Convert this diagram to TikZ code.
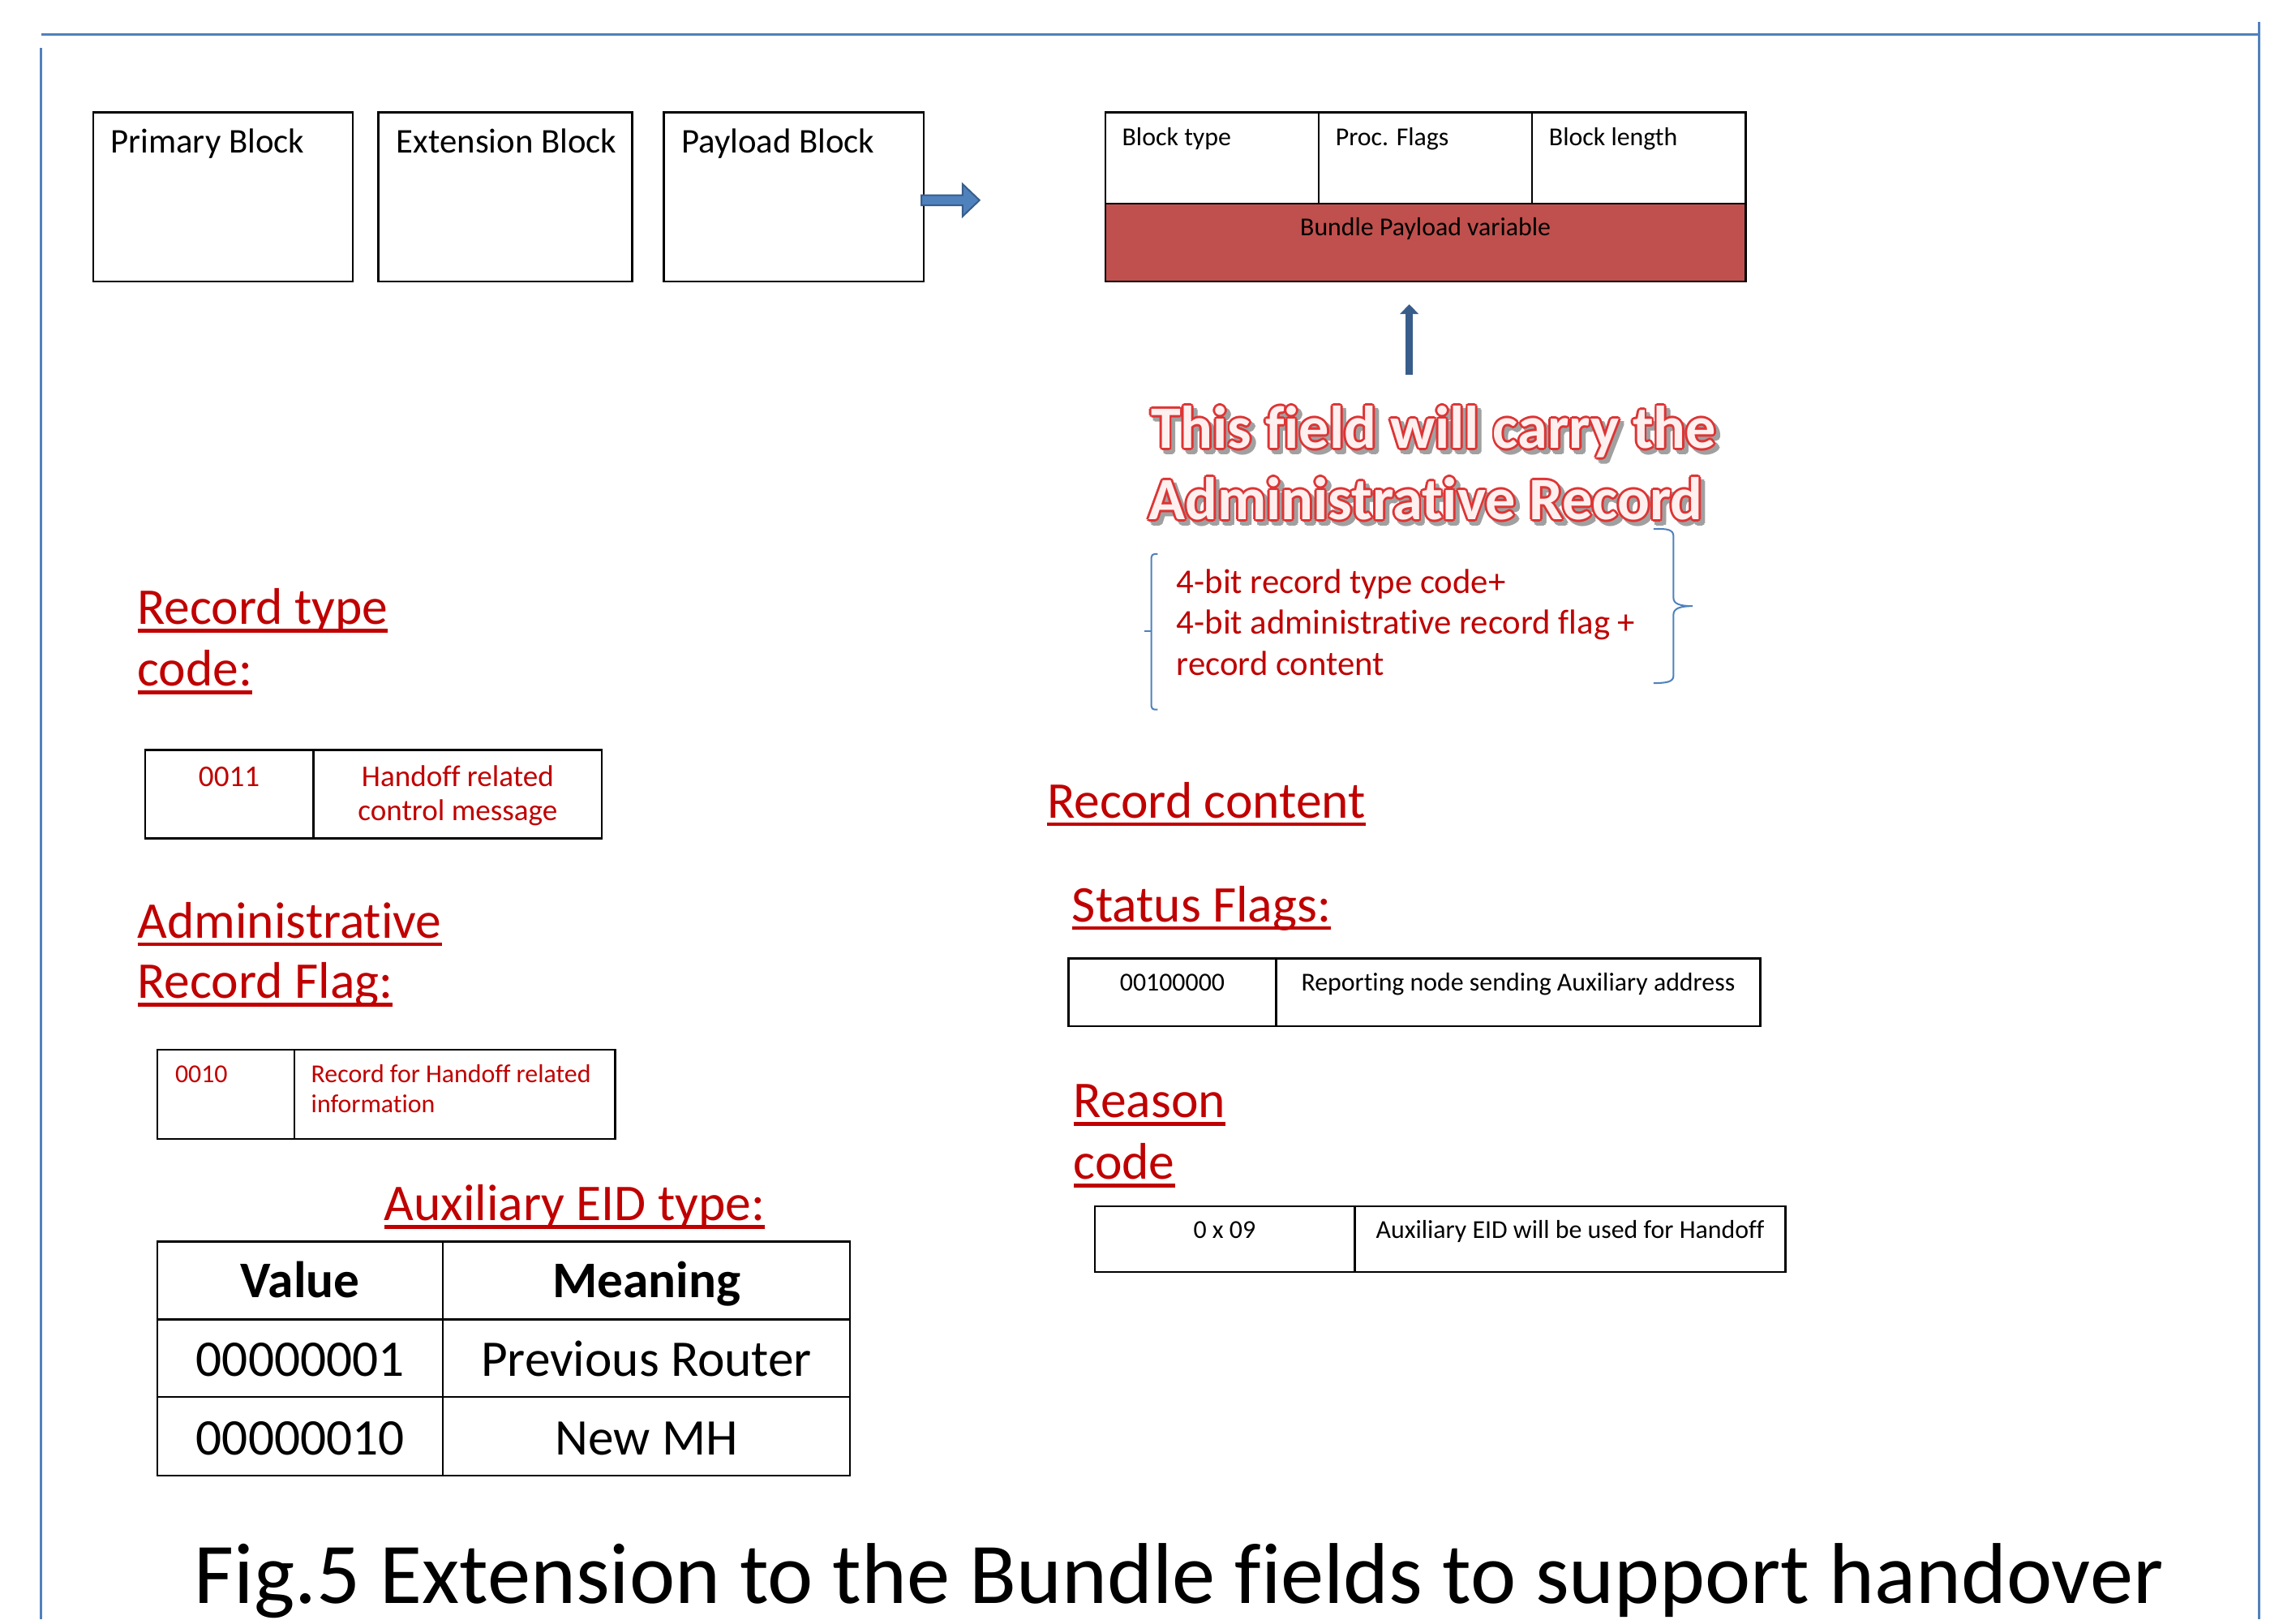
\documentclass[tikz,border=0pt]{standalone}
\usepackage{fontspec}
\setmainfont{Carlito}[RawFeature={-liga;-clig;-dlig;-calt;-rlig}]
\usetikzlibrary{arrows.meta}
\definecolor{hdred}{RGB}{192,0,0}
\definecolor{frameblue}{RGB}{79,129,189}
\definecolor{arrowblue}{RGB}{56,93,138}
\definecolor{payred}{RGB}{192,80,77}
\definecolor{artred}{RGB}{222,52,52}
\definecolor{artgray}{RGB}{160,160,160}
\definecolor{artfill}{RGB}{255,240,240}
\newcommand\fs[2]{\fontsize{#1}{#2}\selectfont}
\newcommand\ulhead[1]{\setbox0=\hbox{#1}\rlap{\rule[-0.16em]{\wd0}{0.07em}}\box0}
\newcommand\artline[1]{\leavevmode
  \foreach \dx/\dy in {0.7/0,0.5/0.5,0/0.7,-0.5/0.5,-0.7/0,-0.5/-0.5,0/-0.7,0.5/-0.5}{%
    \rlap{\hspace{\dimexpr\dx pt+1.2pt\relax}\raisebox{\dimexpr\dy pt-1.3pt\relax}{\color{artgray}#1}}}%
  \foreach \dx/\dy in {0.7/0,0.5/0.5,0/0.7,-0.5/0.5,-0.7/0,-0.5/-0.5,0/-0.7,0.5/-0.5}{%
    \rlap{\hspace{\dx pt}\raisebox{\dy pt}{\color{artred}#1}}}%
  {\color{artfill}#1}}
\begin{document}
\begin{tikzpicture}[x=0.45pt,y=0.45pt,yscale=-1,xscale=1,
    lbl/.style={anchor=base west,inner sep=0pt},
    mid/.style={anchor=base,inner sep=0pt},
    boxline/.style={draw=black,line width=0.6pt},
    frame/.style={draw=frameblue,line width=0.7pt},
    brace/.style={draw=frameblue,line width=0.5pt},
    head/.style={lbl,text=hdred,font=\fs{15.75}{18.9}},
    blocklbl/.style={lbl,font=\fs{10.6}{12.7}},
    fieldlbl/.style={font=\fs{7.9}{9.5}},
    bigcell/.style={mid,font=\fs{15.7}{18.8}}]
    \useasboundingbox (0,0) rectangle (1560,1100);

    %Straight Lines: page frame
    \draw[frame] (28,23.5) -- (1535,23.5) ;
    \draw[frame] (1535,15) -- (1535,1100) ;
    \draw[frame] (28,32.7) -- (28,1100) ;

    %Shape: Rectangle
    \draw[boxline] (63.5,76.2) rectangle (239.6,191.3) ;
    %Shape: Rectangle
    \draw[boxline] (257,76.2) rectangle (429.5,191.3) ;
    %Shape: Rectangle
    \draw[boxline] (451,76.2) rectangle (627.7,191.3) ;
    %Shape: Right Arrow
    \draw[fill=frameblue,draw=arrowblue,line width=0.5pt] (626,132.6) -- (654,132.6) -- (654,125) -- (665.5,136) -- (654,147) -- (654,139.5) -- (626,139.5) -- cycle ;

    %Shape: Rectangle
    \draw[boxline,fill=payred] (751,138.3) rectangle (1186,191.3) ;
    \draw[boxline] (751,76.2) rectangle (1186,138.3) ;
    \draw[boxline] (896,76.2) -- (896,138.3) ;
    \draw[boxline] (1041,76.2) -- (1041,138.3) ;

    %Straight Lines: up arrow
    \coordinate (upfoot) at (957.5,254.4) ;
    \coordinate (uptip) at (957.5,206.7) ;
    \draw[arrowblue,line width=2.4pt,-{Triangle[length=3pt,width=5.6pt]}] (upfoot) -- (uptip) ;

    %Shape: Brackets
    \draw[brace,rounded corners=1] (786.5,376.3) -- (782.3,376.3) -- (782.3,482) -- (786.5,482) ;
    \draw[brace] (782.3,428.8) -- (777.7,428.8) ;
    \draw[brace] (1123.5,359.4) .. controls (1133,358.8) and (1137,360) .. (1137,364) -- (1137,406) .. controls (1137,410) and (1141,411.7) .. (1150,411.7) .. controls (1141,411.7) and (1137,413.5) .. (1137,417.5) -- (1137,459) .. controls (1137,463) and (1133,464) .. (1123.5,464) ;

    %Shape: Table record type
    \draw[boxline] (98.5,509.5) rectangle (409,569.5) ;
    \draw[boxline] (213,509.5) -- (213,569.5) ;
    %Shape: Table record flag
    \draw[boxline] (107,713) rectangle (418,773.5) ;
    \draw[boxline] (200,713) -- (200,773.5) ;
    %Shape: Table auxiliary EID
    \draw[boxline] (107,843.4) rectangle (577.5,1002.2) ;
    \draw[boxline] (107,896.2) -- (577.5,896.2) ;
    \draw[boxline] (107,949) -- (577.5,949) ;
    \draw[boxline] (300.8,843.4) -- (300.8,1002.2) ;
    %Shape: Table status flags
    \draw[boxline] (726,651) rectangle (1196,697) ;
    \draw[boxline] (867,651) -- (867,697) ;
    %Shape: Table reason code
    \draw[boxline] (744,819.5) rectangle (1213,864) ;
    \draw[boxline] (920.5,819.5) -- (920.5,864) ;

    % Text Node
    \node[blocklbl] (prim) at (74.8,103.8) {Primary Block};
    % Text Node
    \node[blocklbl] (ext) at (269,103.8) {Extension Block};
    % Text Node
    \node[blocklbl] (pay) at (462.5,103.8) {Payload Block};
    % Text Node
    \node[lbl,fieldlbl] (btype) at (762,98.8) {Block type};
    % Text Node
    \node[lbl,fieldlbl] (pflags) at (907,98.8) {Proc. Flags};
    % Text Node
    \node[lbl,fieldlbl] (blen) at (1052,98.8) {Block length};
    % Text Node
    \node[mid,fieldlbl] (bpay) at (968.5,160) {Bundle Payload variable};

    % Text Node
    \node[lbl,font=\bfseries\fs{18.4}{22}] (artA) at (781.5,304.5) {\artline{This field will carry the}};
    % Text Node
    \node[lbl,font=\bfseries\fs{18.4}{22}] (artB) at (780,353) {\artline{Administrative Record}};

    % Text Node
    \node[lbl,text=hdred,font=\fs{10.6}{12.7}] (brA) at (799,403) {4-bit record type code+};
    % Text Node
    \node[lbl,text=hdred,font=\fs{10.6}{12.7}] (brB) at (799,430.7) {4-bit administrative record flag +};
    % Text Node
    \node[lbl,text=hdred,font=\fs{10.6}{12.7}] (brC) at (799,459) {record content};

    % Text Node
    \node[head] (rtcA) at (93,424) {\ulhead{Record type}};
    % Text Node
    \node[head] (rtcB) at (93,466) {\ulhead{code:}};
    % Text Node
    \node[mid,text=hdred,font=\fs{9.2}{11}] (rtcv) at (155.7,534) {0011};
    % Text Node
    \node[mid,text=hdred,font=\fs{9.2}{11}] (rtcmA) at (311,534) {Handoff related};
    % Text Node
    \node[mid,text=hdred,font=\fs{9.2}{11}] (rtcmB) at (311,557.5) {control message};

    % Text Node
    \node[head] (arfA) at (93,637) {\ulhead{Administrative}};
    % Text Node
    \node[head] (arfB) at (93,678) {\ulhead{Record Flag:}};
    % Text Node
    \node[lbl,fieldlbl,text=hdred] (arfv) at (118.6,735.5) {0010};
    % Text Node
    \node[lbl,fieldlbl,text=hdred] (arfmA) at (211,735.5) {Record for Handoff related};
    % Text Node
    \node[lbl,fieldlbl,text=hdred] (arfmB) at (211,756) {information};

    % Text Node
    \node[head] (auxh) at (260.5,829) {\ulhead{Auxiliary EID type:}};
    % Text Node
    \node[bigcell] (valh) at (204,881.5) {\bfseries Value};
    % Text Node
    \node[bigcell] (meanh) at (439.2,881.5) {\bfseries Meaning};
    % Text Node
    \node[bigcell] (valA) at (204,934.8) {00000001};
    % Text Node
    \node[bigcell] (meanA) at (439.2,934.8) {Previous Router};
    % Text Node
    \node[bigcell] (valB) at (204,988) {00000010};
    % Text Node
    \node[bigcell] (meanB) at (439.2,988) {New MH};

    % Text Node
    \node[head] (rch) at (711,555.6) {\ulhead{Record content}};
    % Text Node
    \node[head] (sfh) at (728,626) {\ulhead{Status Flags:}};
    % Text Node
    \node[mid,fieldlbl] (sfv) at (796.5,673) {00100000};
    % Text Node
    \node[mid,fieldlbl] (sfm) at (1031.5,673) {Reporting node sending Auxiliary address};
    % Text Node
    \node[head] (rsA) at (729,759) {\ulhead{Reason}};
    % Text Node
    \node[head] (rsB) at (729,801) {\ulhead{code}};
    % Text Node
    \node[mid,fieldlbl] (rsv) at (832,841) {0 x 09};
    % Text Node
    \node[mid,fieldlbl] (rsm) at (1066.8,841) {Auxiliary EID will be used for Handoff};

    % Text Node
    \node[lbl,font=\fs{26.4}{31.7}] (cap) at (131.8,1089) {Fig.5 Extension to the Bundle fields to support handover};

\end{tikzpicture}
\end{document}
